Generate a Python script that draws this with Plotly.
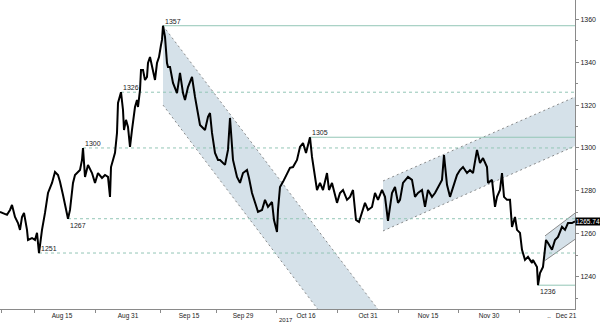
import plotly.graph_objects as go

# ---- price series (x = 4-hour bar index, y = price) ----
bar = [0,3,7,10,12,15,18,20,22,24,27,28,32,35,37,39,42,45,48,52,55,58,60,63,65,67,68,70,73,75,77,80,82,83,85,88,92,95,98,102,105,108,110,111,113,115,117,118,121,123,124,126,128,130,132,135,137,138,140,141,143,145,147,148,150,153,155,157,159,161,162,163,165,167,168,170,173,177,180,183,185,188,192,195,198,200,205,208,210,212,215,218,220,225,228,230,233,237,240,243,247,249,252,255,258,262,265,268,272,274,277,278,280,283,287,290,293,297,300,303,306,310,312,315,317,320,323,327,329,332,335,337,340,343,347,350,353,356,359,362,365,368,372,375,378,382,385,388,392,395,398,400,403,408,412,415,418,422,425,428,432,435,438,442,444,447,450,453,457,460,463,467,470,473,477,480,483,487,488,492,495,497,500,502,504,507,510,512,515,517,520,522,525,528,532,533,537,538,540,543,546,548,552,555,558,562,565,568,572,575]
price = [1270.2,1269.7,1268.8,1271.1,1273.4,1267.8,1265.0,1261.8,1267.8,1269.7,1261.8,1257.1,1258.0,1257.1,1260.4,1251.0,1261.8,1269.7,1279.0,1283.7,1288.8,1287.4,1284.2,1278.1,1273.4,1270.2,1267.0,1271.1,1283.7,1287.4,1288.3,1289.7,1294.4,1300.0,1286.5,1292.1,1288.3,1283.7,1288.3,1286.0,1287.4,1286.5,1277.2,1291.1,1294.4,1297.7,1307.0,1321.0,1326.0,1317.7,1308.4,1313.1,1309.8,1300.5,1308.4,1319.1,1322.4,1319.1,1327.0,1336.4,1336.4,1331.7,1333.1,1339.6,1342.4,1336.4,1331.7,1339.6,1342.4,1348.0,1350.4,1357.0,1351.8,1339.6,1337.8,1337.8,1330.3,1325.6,1335.0,1325.6,1322.4,1328.4,1333.1,1323.8,1316.3,1310.7,1308.4,1314.5,1316.3,1307.0,1297.7,1294.4,1294.4,1292.1,1299.1,1314.0,1294.4,1286.5,1283.7,1288.3,1289.7,1286.0,1279.0,1274.4,1270.2,1271.1,1275.8,1272.5,1274.8,1266.4,1260.8,1271.1,1281.8,1284.2,1288.3,1290.7,1291.1,1294.4,1300.5,1302.3,1297.7,1305.0,1295.8,1286.5,1280.4,1283.7,1280.4,1288.3,1280.4,1283.7,1277.2,1274.4,1279.0,1280.4,1275.8,1277.2,1280.4,1266.4,1265.5,1269.7,1274.4,1271.1,1272.5,1279.0,1275.8,1280.4,1277.2,1266.0,1279.0,1281.8,1274.4,1275.8,1283.7,1286.5,1285.1,1277.2,1279.0,1280.4,1272.5,1280.4,1277.2,1279.0,1281.8,1285.1,1296.7,1282.8,1277.2,1281.8,1287.4,1289.7,1291.1,1288.3,1289.7,1288.3,1299.1,1293.0,1295.3,1291.1,1283.7,1285.1,1272.5,1277.2,1280.4,1288.3,1277.2,1275.8,1275.8,1263.2,1267.8,1261.8,1260.4,1252.5,1247.8,1249.2,1246.4,1247.8,1244.5,1236.0,1241.7,1244.5,1257.1,1255.7,1252.5,1257.1,1258.5,1263.2,1261.8,1265.0,1265.0,1265.74]
last_price = 1265.74

# ---- marked levels ----
level_values = [1357, 1326, 1305, 1300, 1267, 1251, 1236]
level_start = [163, 121, 310, 83, 68, 39, 538]
level_dashed = [False, True, False, True, True, True, False]
level_label_below = [False, False, False, False, True, False, True]

# ---- trend channels: start bar, end bar, upper start/end, lower start/end ----
channel_x0 = [163, 383, 545]
channel_x1 = [380, 575, 575]
channel_up0 = [1357.0, 1284.6, 1259.0]
channel_up1 = [1223.5, 1323.8, 1269.6]
channel_lo0 = [1320.0, 1261.3, 1247.5]
channel_lo1 = [1186.5, 1300.9, 1257.4]
channel_border_dash = ["2px,3px", "2px,3px", "solid"]

# ---- axes ----
x_tickvals = [62, 128, 189, 243, 306, 368, 428, 489, 549, 566]
x_ticktext = ["Aug 15", "Aug 31", "Sep 15", "Sep 29", "Oct 16", "Oct 31", "Nov 15", "Nov 30", "..", "Dec 21"]
x_minor = [1, 34, 95, 160, 216, 276, 337, 398, 458, 519]
year_label = "2017"
year_pos = 286
y_ticks = [1240, 1260, 1280, 1300, 1320, 1340, 1360]

X_RANGE = [0, 575]
Y_RANGE = [1224.9, 1369.0]

LEVEL_COLOR = "#93c6b6"
FILL_COLOR = "rgba(206,220,229,0.85)"
BORDER_COLOR = "#707070"
FONT = "Liberation Sans, Arial, sans-serif"
TEXT_COLOR = "#1a1a1a"

fig = go.Figure()

# channels
for i in range(len(channel_x0)):
    xs = [channel_x0[i], channel_x1[i], channel_x1[i], channel_x0[i], channel_x0[i]]
    ys = [channel_up0[i], channel_up1[i], channel_lo1[i], channel_lo0[i], channel_up0[i]]
    fig.add_trace(go.Scatter(x=xs, y=ys, fill="toself", fillcolor=FILL_COLOR,
                             line=dict(width=0), mode="lines", hoverinfo="skip", showlegend=False))
    for (a, b) in [(channel_up0[i], channel_up1[i]), (channel_lo0[i], channel_lo1[i])]:
        fig.add_trace(go.Scatter(x=[channel_x0[i], channel_x1[i]], y=[a, b], mode="lines",
                                 line=dict(color=BORDER_COLOR, width=0.8, dash=channel_border_dash[i]),
                                 hoverinfo="skip", showlegend=False))

# levels
for v, s, d in zip(level_values, level_start, level_dashed):
    fig.add_trace(go.Scatter(x=[s, X_RANGE[1]], y=[v, v], mode="lines",
                             line=dict(color=LEVEL_COLOR, width=1, dash="3px,3px" if d else "solid"),
                             hoverinfo="skip", showlegend=False))

# price
fig.add_trace(go.Scatter(x=bar, y=price, mode="lines", line=dict(color="#000000", width=2),
                         showlegend=False))

# level labels
for v, s, below in zip(level_values, level_start, level_label_below):
    fig.add_annotation(x=s, y=v, text=str(v), showarrow=False, xanchor="left",
                       yanchor="top" if below else "bottom", yshift=-1,
                       font=dict(family=FONT, size=7, color=TEXT_COLOR))

# last price tag
fig.add_annotation(xref="paper", x=1.0, y=last_price, text=f"{last_price:.2f}", showarrow=False,
                   xanchor="left", yanchor="middle", bgcolor="#000", borderpad=0, xshift=0,
                   font=dict(family=FONT, size=6.5, color="#fff"))

# year label
fig.add_annotation(x=year_pos, yref="paper", y=0, text=year_label, showarrow=False,
                   yanchor="top", yshift=-6, font=dict(family=FONT, size=6, color=TEXT_COLOR))

fig.update_layout(
    width=600, height=323, margin=dict(l=0, r=25, t=0, b=14),
    paper_bgcolor="white", plot_bgcolor="white", showlegend=False,
    xaxis=dict(range=X_RANGE, showgrid=False, zeroline=False, showline=True, linecolor="#8a8a8a",
               linewidth=1, tickmode="array", tickvals=x_tickvals, ticktext=x_ticktext,
               ticks="outside", ticklen=0, tickfont=dict(family=FONT, size=6.5, color=TEXT_COLOR),
               minor=dict(tickmode="array", tickvals=x_minor, ticks="outside", ticklen=3,
                          tickcolor="#8a8a8a", showgrid=False)),
    yaxis=dict(range=Y_RANGE, side="right", showgrid=False, zeroline=False, showline=True,
               linecolor="#8a8a8a", linewidth=1, tickmode="array", tickvals=y_ticks,
               ticks="outside", ticklen=3, tickcolor="#8a8a8a",
               tickfont=dict(family=FONT, size=7, color=TEXT_COLOR),
               minor=dict(dtick=10, tick0=1230, ticks="outside", ticklen=2, tickcolor="#8a8a8a",
                          showgrid=False)),
)

fig.write_html("out.html")
